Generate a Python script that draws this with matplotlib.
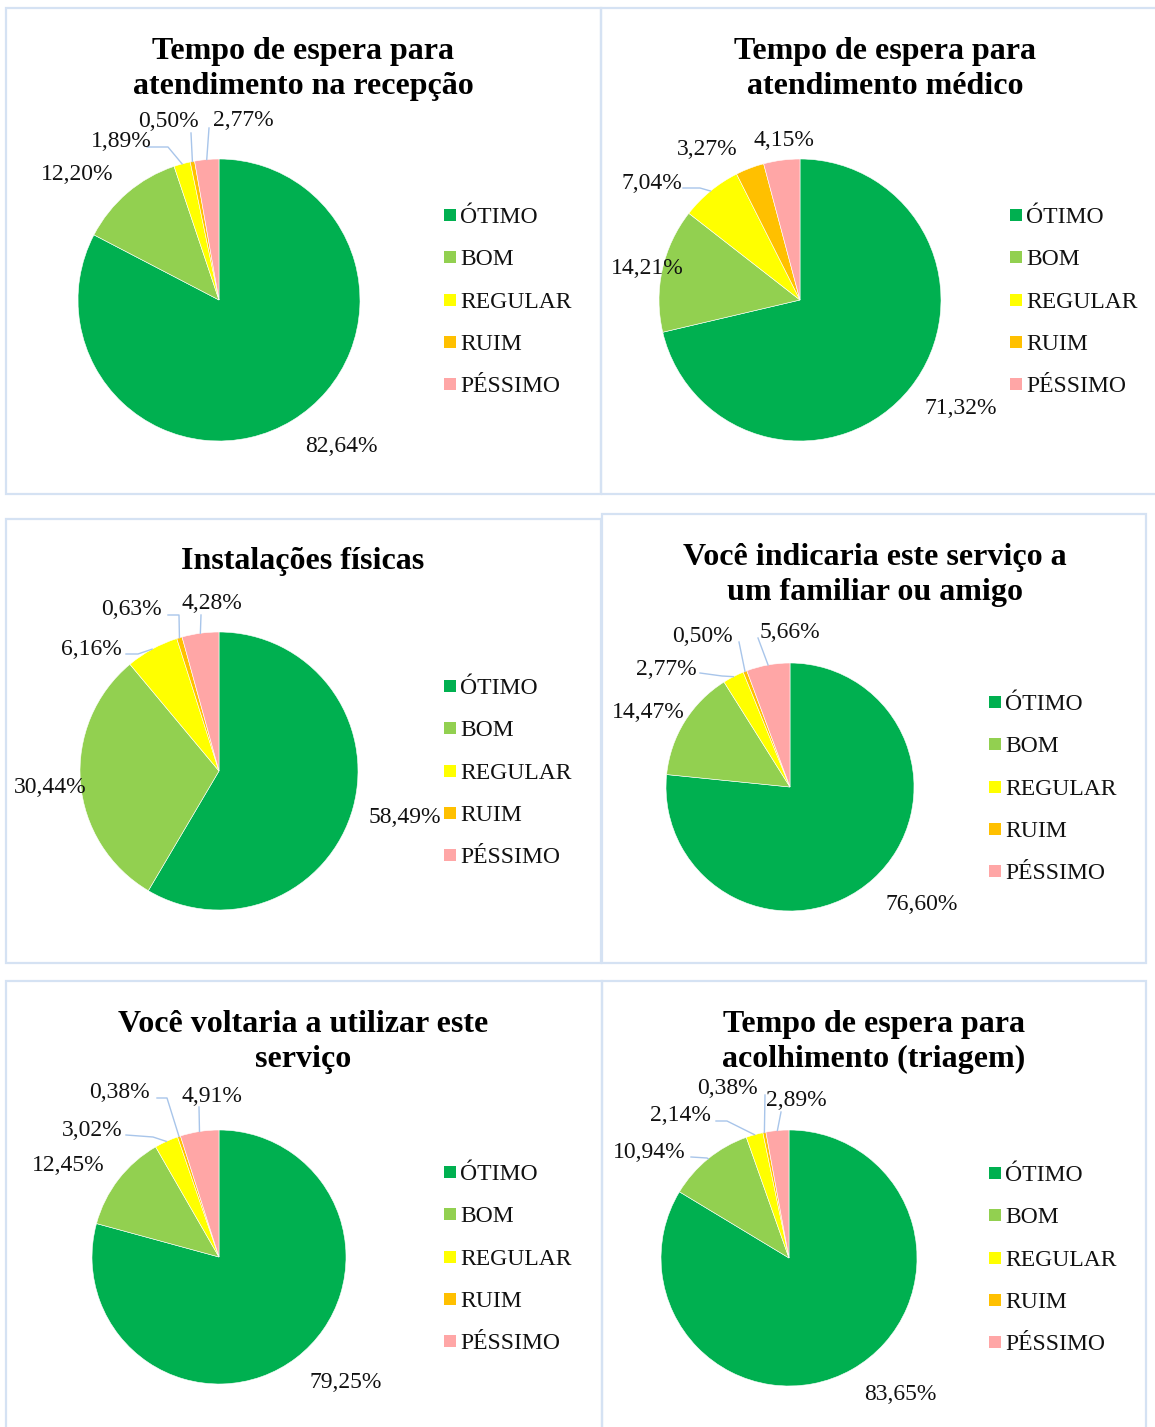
import matplotlib
matplotlib.use("Agg")
import matplotlib.pyplot as plt
from matplotlib.patches import Rectangle
import numpy as np

# ---- data -------------------------------------------------------------
categories = ["ÓTIMO", "BOM", "REGULAR", "RUIM", "PÉSSIMO"]
colors = ["#00B050", "#92D050", "#FFFF00", "#FFC000", "#FFA6A6"]

titles = [
    "Tempo de espera para\natendimento na recepção",
    "Tempo de espera para\natendimento médico",
    "Instalações físicas",
    "Você indicaria este serviço a\num familiar ou amigo",
    "Você voltaria a utilizar este\nserviço",
    "Tempo de espera para\nacolhimento (triagem)",
]

recepcao = [82.64, 12.20, 1.89, 0.50, 2.77]
medico = [71.32, 14.21, 7.04, 3.27, 4.15]
instalacoes = [58.49, 30.44, 6.16, 0.63, 4.28]
indicaria = [76.60, 14.47, 2.77, 0.50, 5.66]
voltaria = [79.25, 12.45, 3.02, 0.38, 4.91]
triagem = [83.65, 10.94, 2.14, 0.38, 2.89]

series = [recepcao, medico, instalacoes, indicaria, voltaria, triagem]

# ---- layout (pixel units on a 1155 x 1427 canvas) -----------------------
W, H = 1155, 1427
FONT = "Liberation Serif"
BORDER = "#D5E2F3"
LEADER = "#A8C5EA"
TXT_DY = 2.5  # baseline nudge for text placed by its centre

panels = [
    dict(center=(219, 300), r=141, title=(303, 66.5), legend=(444, 215),
         labels=[(341, 444), (77, 172), (121, 139), (168, 119), (243, 118)],
         leaders={2: [(147, 147), (168, 147)], 3: [(191, 133)], 4: [(209, 128)]}),
    dict(center=(800, 300), r=141, title=(885, 66.5), legend=(1010, 215),
         labels=[(961, 406), (647, 266), (652, 181), (707, 147), (784, 138)],
         leaders={2: [(683, 188), (700, 188)]}),
    dict(center=(219, 771), r=139, title=(303, 559), legend=(444, 686),
         labels=[(405, 815), (50, 785), (91, 647), (131, 607), (212, 601)],
         leaders={2: [(126, 654), (138, 654)], 3: [(168, 615), (179, 615)],
                  4: [(201, 615)]}),
    dict(center=(790, 787), r=124, title=(875, 572.5), legend=(989, 702),
         labels=[(922, 902), (648, 710), (666, 667), (702, 634), (790, 630)],
         leaders={2: [(700, 673), (722, 676)], 3: [(739, 642)], 4: [(758, 638)]}),
    dict(center=(219, 1257), r=127, title=(303, 1039.5), legend=(444, 1172),
         labels=[(346, 1380), (68, 1163), (92, 1128), (119, 1090), (212, 1094)],
         leaders={2: [(126, 1135), (153, 1137)], 3: [(157, 1098), (167, 1098)],
                  4: [(199, 1107)]}),
    dict(center=(789, 1258), r=128, title=(874, 1039.5), legend=(989, 1173),
         labels=[(900, 1392), (649, 1150), (680, 1113), (727, 1086), (796, 1098)],
         leaders={1: [(691, 1157), (707, 1158)], 2: [(716, 1121), (727, 1121)],
                  3: [(765, 1095)], 4: [(781, 1112)]}),
]

borders = [
    (6, 8, 601, 494), (601, 8, 1160, 494),
    (6, 519, 601, 963), (602, 514, 1146, 963),
    (6, 981, 602, 1432), (602, 981, 1146, 1432),
]


def fx(px):
    return px / W


def fy(py):
    return 1 - py / H


def pct(v):
    return f"{v:.2f}%".replace(".", ",")


fig = plt.figure(figsize=(W / 100, H / 100), dpi=100)
fig.patch.set_facecolor("white")

for x0, y0, x1, y1 in borders:
    fig.patches.append(Rectangle((fx(x0), fy(y1)), fx(x1) - fx(x0), fy(y0) - fy(y1),
                                 transform=fig.transFigure, fill=False,
                                 edgecolor=BORDER, linewidth=1.6, zorder=0))

for values, title, lay in zip(series, titles, panels):
    cx, cy = lay["center"]
    r = lay["r"]
    ax = fig.add_axes([fx(cx - r), fy(cy + r), 2 * r / W, 2 * r / H])
    wedges, _ = ax.pie(values, colors=colors, startangle=90, counterclock=False,
                       radius=1, wedgeprops=dict(linewidth=0.4, edgecolor="white"))
    ax.set_xlim(-1, 1)
    ax.set_ylim(-1, 1)
    ax.axis("off")

    # percentage labels and leader lines
    for i, (v, (lx, ly)) in enumerate(zip(values, lay["labels"])):
        fig.text(fx(lx), fy(ly + TXT_DY), pct(v), ha="center", va="center",
                 family=FONT, fontsize=17, color="#111111")
        if i in lay["leaders"]:
            w = wedges[i]
            mid = np.deg2rad((w.theta1 + w.theta2) / 2)
            pts = [((px - cx) / r, (cy - py) / r) for px, py in lay["leaders"][i]]
            pts.append((np.cos(mid), np.sin(mid)))
            xs, ys = zip(*pts)
            ax.plot(xs, ys, color=LEADER, lw=1.0, clip_on=False, zorder=5)

    # title
    tx, ty = lay["title"]
    fig.text(fx(tx), fy(ty + TXT_DY), title, ha="center", va="center", family=FONT,
             fontsize=23, fontweight="bold", linespacing=1.3, color="black")

    # legend
    lx0, ly0 = lay["legend"]
    for k, (cat, col) in enumerate(zip(categories, colors)):
        yy = ly0 + k * 42.3
        fig.patches.append(Rectangle((fx(lx0), fy(yy + 6)), 12 / W, 12 / H,
                                     transform=fig.transFigure, facecolor=col,
                                     edgecolor="none"))
        fig.text(fx(lx0 + 16), fy(yy + TXT_DY), cat, ha="left", va="center",
                 family=FONT, fontsize=17, color="#111111")

fig.savefig("out.png", dpi=100, facecolor="white")
